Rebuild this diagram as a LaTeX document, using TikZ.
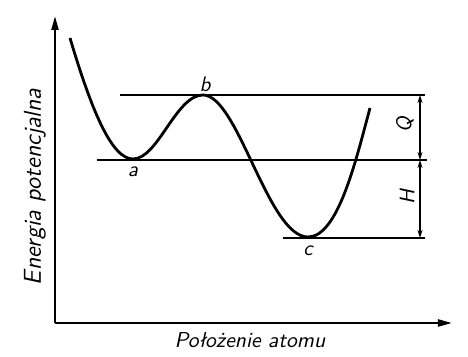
\documentclass[tikz,border=0pt]{standalone}
\usetikzlibrary{arrows.meta}
\tikzset{
    axis/.style={line width=1.1pt,-{Triangle[length=7pt,width=3.5pt]}},
    level/.style={line width=0.9pt},
    dim/.style={line width=0.7pt,{Stealth[length=4pt,width=2.5pt]}-{Stealth[length=4pt,width=2.5pt]}},
    lbl/.style={font=\sffamily\itshape\fontsize{10.5}{12}\selectfont},
}
\begin{document}
\begin{tikzpicture}[x=0.5pt,y=-0.5pt]
    \useasboundingbox (0,0) rectangle (468,357);
    % axes
    \coordinate (O) at (55,323);
    \coordinate (ytop) at (55,16);
    \coordinate (xend) at (452,323);
    \draw[axis] (O) -- (ytop);
    \draw[axis] (O) -- (xend);
    \node[lbl,rotate=90,font=\sffamily\itshape\fontsize{12.2}{14}\selectfont] (ylab) at (35,187) {Energia potencjalna};
    \node[lbl,font=\sffamily\itshape\fontsize{10.8}{12}\selectfont] (xlab) at (250,340) {Położenie atomu};
    % energy levels
    \coordinate (bL) at (120,95);   \coordinate (bR) at (425,95);
    \coordinate (aL) at (97,160);   \coordinate (aR) at (427,160);
    \coordinate (cL) at (283,238);  \coordinate (cR) at (425,238);
    \draw[level] (bL) -- (bR);
    \draw[level] (aL) -- (aR);
    \draw[level] (cL) -- (cR);
    % potential curve
    \coordinate (s) at (70,38);
    \coordinate (a) at (133,159);
    \coordinate (b) at (203,95);
    \coordinate (c) at (308,237);
    \coordinate (e) at (370,108);
    \draw[line width=1.4pt] (s) .. controls (92,112) and (112,159) .. (a)
        .. controls (158,159) and (176,95) .. (b)
        .. controls (238,95) and (268,237) .. (c)
        .. controls (338,237) and (356,160) .. (e);
    \node[lbl] (la) at (133,172) {a};
    \node[lbl] (lb) at (205,84) {b};
    \node[lbl] (lc) at (308,251) {c};
    % Q and H
    \coordinate (q1) at (420,95);
    \coordinate (q2) at (420,160);
    \coordinate (h2) at (420,238);
    \draw[dim] (q1) -- (q2);
    \draw[dim] (q2) -- (h2);
    \node[lbl,rotate=90] (Q) at (405,125) {Q};
    \node[lbl,rotate=90] (H) at (407,197) {H};
\end{tikzpicture}
\end{document}
